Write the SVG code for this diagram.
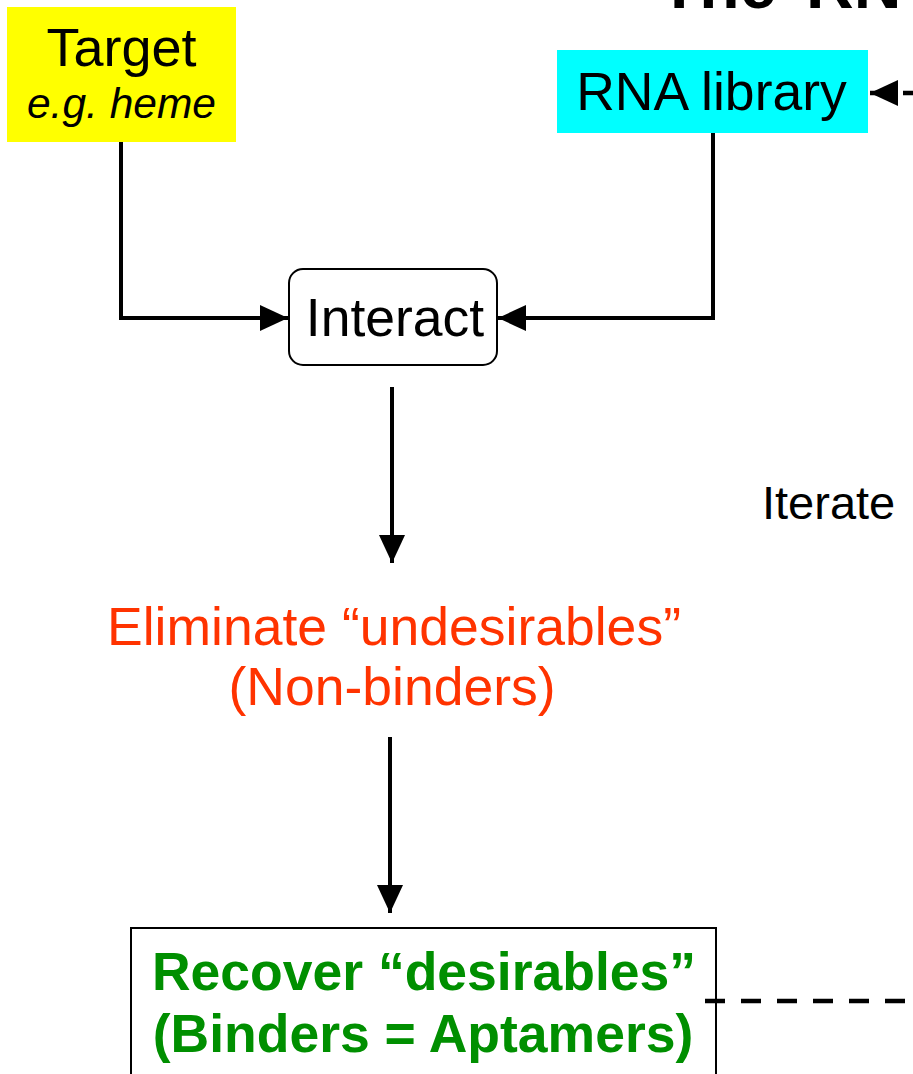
<svg xmlns="http://www.w3.org/2000/svg" width="913" height="1074" viewBox="0 0 913 1074">
  <style>
    .lbl { font-family: "Liberation Sans", Arial, sans-serif; text-anchor: middle; fill: #000; }
    .conn { fill: none; stroke: #000; stroke-width: 4; }
    .dash { stroke-dasharray: 20 16; stroke-width: 4.5; }
  </style>
  <defs>
    <marker id="head" markerUnits="userSpaceOnUse" markerWidth="30" markerHeight="28" refX="28" refY="13" orient="auto">
      <path d="M0,0 L28,13 L0,26 Z" fill="#000" stroke="none"/>
    </marker>
  </defs>

  <rect width="913" height="1074" fill="#fff"/>

  <!-- title, mostly above the top edge -->
  <text id="title" x="659" y="8" font-family="'Liberation Sans', Arial, sans-serif" font-weight="bold" font-size="66" fill="#000">The<tspan x="806">RN</tspan></text>

  <g id="target">
    <rect x="7" y="7" width="229" height="135" fill="#ffff00"/>
    <text class="lbl" x="121.5" y="66" font-size="54">Target</text>
    <text class="lbl" x="121.5" y="118" font-size="42.5" font-style="italic">e.g. heme</text>
  </g>

  <g id="rna-library">
    <rect x="557" y="50" width="311" height="83" fill="#00ffff"/>
    <text class="lbl" x="711.5" y="110" font-size="53.5">RNA library</text>
  </g>

  <g id="interact">
    <rect x="289" y="269" width="208" height="96" rx="14" ry="14" fill="#fff" stroke="#000" stroke-width="2"/>
    <text class="lbl" x="395" y="336" font-size="53.5">Interact</text>
  </g>

  <g id="eliminate">
    <text class="lbl" x="394" y="645" font-size="53.5" style="fill:#ff3300">Eliminate “undesirables”</text>
    <text class="lbl" x="392" y="705" font-size="53.5" style="fill:#ff3300">(Non-binders)</text>
  </g>

  <g id="iterate">
    <text x="762" y="519" font-family="'Liberation Sans', Arial, sans-serif" font-size="47" fill="#000">Iterate</text>
  </g>

  <g id="recover">
    <rect x="131" y="928" width="585" height="170" fill="#fff" stroke="#000" stroke-width="2"/>
    <text class="lbl" x="424" y="990" font-size="53.5" font-weight="bold" style="fill:#008f00">Recover “desirables”</text>
    <text class="lbl" x="423" y="1052" font-size="53.5" font-weight="bold" style="fill:#008f00">(Binders = Aptamers)</text>
  </g>

  <!-- connectors -->
  <g id="connectors">
    <path class="conn" d="M121,142 V318 H288" marker-end="url(#head)"/>
    <path class="conn" d="M713,133 V318 H498" marker-end="url(#head)"/>
    <path class="conn" d="M392,387 V563" marker-end="url(#head)"/>
    <path class="conn" d="M390,737 V913" marker-end="url(#head)"/>
    <path class="conn dash" d="M705,1001 H936 V93 H870" marker-end="url(#head)"/>
  </g>
</svg>
